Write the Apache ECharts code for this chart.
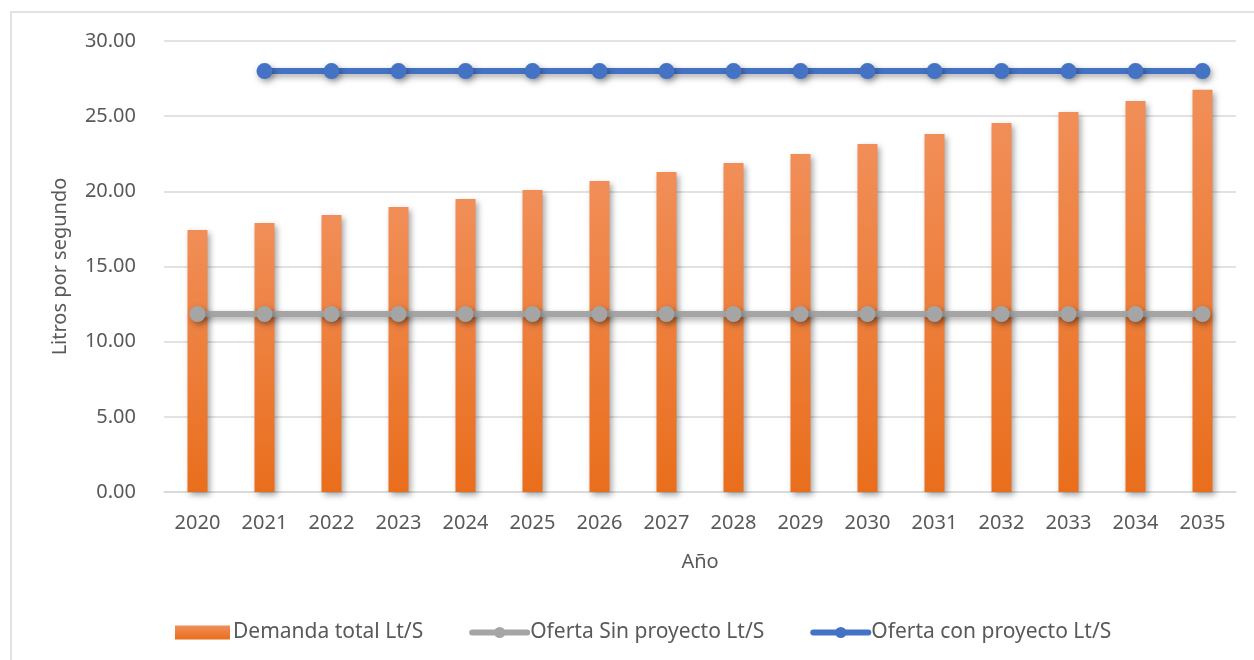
<!DOCTYPE html>
<html>
<head>
<meta charset="utf-8">
<script src="https://cdn.jsdelivr.net/npm/echarts@6/dist/echarts.min.js"></script>
<style>
html,body{margin:0;padding:0;background:#fff;}
#chart{width:1254px;height:660px;}
</style>
</head>
<body>
<div id="chart"></div>
<script>
const years = ['2020','2021','2022','2023','2024','2025','2026','2027','2028','2029','2030','2031','2032','2033','2034','2035'];
const demanda = [17.43,17.90,18.43,18.96,19.49,20.09,20.69,21.29,21.89,22.49,23.15,23.82,24.55,25.28,26.01,26.75];
const ofertaSin = [11.84,11.84,11.84,11.84,11.84,11.84,11.84,11.84,11.84,11.84,11.84,11.84,11.84,11.84,11.84,11.84];
const ofertaCon = [null,28.0,28.0,28.0,28.0,28.0,28.0,28.0,28.0,28.0,28.0,28.0,28.0,28.0,28.0,28.0];
const yTicks = {min:0, max:30, interval:5};

const FONT = 'Noto Sans';
const TXT = '#595959';
const chart = echarts.init(document.getElementById('chart'), null, {renderer:'canvas'});
const barGrad = new echarts.graphic.LinearGradient(0,0,0,1,[
  {offset:0,color:'#F18E58'},{offset:1,color:'#E96E1C'}
]);
const shadow = {shadowColor:'rgba(0,0,0,0.35)', shadowBlur:6, shadowOffsetX:2, shadowOffsetY:3};
chart.setOption({
  animation:false,
  backgroundColor:'#fff',
  textStyle:{fontFamily:FONT,color:TXT},
  graphic:[{type:'rect',shape:{x:11,y:12,width:1280,height:700},style:{fill:'none',stroke:'#D9D9D9',lineWidth:1.5},z:-1}],
  grid:{left:164,right:18,top:41,bottom:168,containLabel:false},
  legend:{
    left:175, top:622, padding:0, itemWidth:55, itemHeight:14, itemGap:46,
    lineStyle:{width:6, cap:'round'},
    textStyle:{fontFamily:FONT,fontSize:21,color:TXT,padding:[0,0,0,-2]},
    data:[
      {name:'Demanda total Lt/S', icon:'rect'},
      {name:'Oferta Sin proyecto Lt/S'},
      {name:'Oferta con proyecto Lt/S'}
    ]
  },
  xAxis:{
    type:'category', data:years,
    name:'Año', nameLocation:'middle', nameGap:60,
    nameTextStyle:{fontFamily:FONT,fontSize:20,color:TXT},
    axisLine:{lineStyle:{color:'#D9D9D9',width:1.5}},
    axisTick:{show:false},
    axisLabel:{fontFamily:FONT,fontSize:20,color:TXT,margin:21}
  },
  yAxis:{
    type:'value', min:yTicks.min, max:yTicks.max, interval:yTicks.interval,
    name:'Litros por segundo', nameLocation:'middle', nameRotate:90, nameGap:94,
    nameTextStyle:{fontFamily:FONT,fontSize:20,color:TXT},
    axisLine:{show:false}, axisTick:{show:false},
    splitLine:{lineStyle:{color:'#D9D9D9',width:1.5}},
    axisLabel:{fontFamily:FONT,fontSize:20,color:TXT,margin:28,formatter:v=>v.toFixed(2)}
  },
  series:[
    {name:'Demanda total Lt/S',type:'bar',data:demanda,barWidth:20,
     itemStyle:Object.assign({color:barGrad},shadow)},
    {name:'Oferta Sin proyecto Lt/S',type:'line',data:ofertaSin,symbol:'circle',symbolSize:16,
     lineStyle:Object.assign({color:'#A5A5A5',width:6},shadow),
     itemStyle:Object.assign({color:'#A5A5A5'},shadow)},
    {name:'Oferta con proyecto Lt/S',type:'line',data:ofertaCon,symbol:'circle',symbolSize:16,
     lineStyle:Object.assign({color:'#4472C4',width:6},shadow),
     itemStyle:Object.assign({color:'#4472C4'},shadow)}
  ]
});
</script>
</body>
</html>
